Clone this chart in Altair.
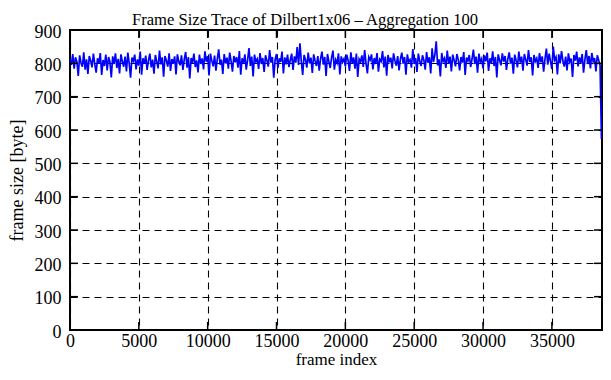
import altair as alt
import pandas as pd

# ---- data (frame size averaged over 100 frames) ----
frame_step = 100
frame_sizes = [
    812, 795, 828, 784, 818, 805, 762, 824, 801, 790, 833, 781, 812, 768, 822, 808, 788, 829, 797, 772,
    815, 800, 831, 765, 810, 792, 826, 779, 819, 804, 758, 821, 798, 830, 786, 813, 770, 827, 806, 790,
    820, 776, 832, 800, 757, 817, 807, 826, 782, 812, 793, 835, 766, 815, 799, 823, 780, 809, 829, 788,
    811, 769, 825, 805, 785, 838, 797, 818, 760, 822, 808, 790, 830, 777, 813, 799, 821, 767, 827, 806,
    794, 824, 780, 812, 834, 787, 819, 755, 816, 801, 829, 789, 809, 773, 826, 798, 815, 782, 836, 805,
    821, 764, 829, 808, 791, 823, 778, 813, 842, 796, 811, 768, 828, 800, 817, 784, 832, 807, 775, 822,
    803, 819, 787, 837, 766, 815, 799, 827, 781, 810, 846, 792, 820, 761, 826, 805, 813, 783, 831, 798,
    816, 774, 824, 809, 790, 840, 802, 819, 757, 812, 828, 786, 815, 804, 835, 770, 818, 797, 826, 789,
    810, 829, 780, 821, 802, 849, 795, 860, 806, 765, 825, 811, 787, 832, 800, 817, 771, 827, 808, 792,
    822, 778, 813, 835, 796, 819, 762, 828, 806, 786, 817, 838, 781, 811, 801, 830, 767, 821, 804, 814,
    791, 826, 809, 777, 833, 799, 818, 784, 829, 759, 813, 805, 824, 789, 840, 800, 770, 819, 810, 827,
    782, 816, 798, 831, 775, 812, 806, 837, 788, 820, 763, 825, 803, 817, 785, 830, 808, 793, 822, 779,
    813, 832, 799, 819, 766, 827, 805, 811, 787, 843, 798, 816, 774, 829, 807, 792, 824, 810, 781, 834,
    802, 818, 770, 845, 804, 825, 866, 794, 812, 761, 831, 806, 815, 786, 838, 799, 820, 776, 826, 809,
    791, 828, 811, 779, 819, 802, 834, 765, 817, 807, 825, 789, 813, 841, 798, 820, 772, 829, 804, 814,
    785, 824, 806, 832, 777, 815, 800, 836, 792, 819, 758, 827, 810, 794, 830, 805, 822, 780, 813, 833,
    799, 817, 769, 826, 809, 788, 835, 802, 820, 778, 828, 811, 793, 840, 804, 818, 764, 825, 806, 815,
    786, 831, 803, 821, 775, 813, 844, 796, 829, 805, 783, 850, 810, 819, 767, 827, 800, 837, 807, 790,
    820, 779, 830, 804, 814, 759, 825, 808, 835, 791, 818, 801, 828, 772, 812, 840, 798, 822, 785, 831,
    805, 816, 776, 824, 809, 794, 573,
]
x_domain = [0, 38640]
y_domain = [0, 900]
x_ticks = [0, 5000, 10000, 15000, 20000, 25000, 30000, 35000]
y_ticks = [0, 100, 200, 300, 400, 500, 600, 700, 800, 900]
title_text = "Frame Size Trace of Dilbert1x06 \u2013 Aggregation 100"
x_title = "frame index"
y_title = "frame size [byte]"

df = pd.DataFrame({
    "frame": [i * frame_step for i in range(len(frame_sizes))],
    "size": frame_sizes,
})
xt = pd.DataFrame({"frame": x_ticks})
yt = pd.DataFrame({"size": y_ticks})

W, H = 532, 300
TL = 8
FONT = "Liberation Serif"

xs = alt.Scale(domain=x_domain, nice=False, zero=False)
ys = alt.Scale(domain=y_domain, nice=False, zero=False)

grid_kw = dict(grid=True, gridDash=[7, 5], gridColor="black", gridWidth=1.1,
               gridOpacity=1, ticks=False, domain=False,
               labelFont=FONT, labelFontSize=18, labelColor="black",
               titleFont=FONT, titleFontWeight="normal",
               titleColor="black", labelFlush=False, format="d")

x_axis = alt.Axis(values=x_ticks, title=x_title, labelPadding=2, titleFontSize=17,
                  titleY=34, titleBaseline="alphabetic", **grid_kw)
y_axis = alt.Axis(values=y_ticks, title=y_title, labelPadding=9, titleFontSize=18,
                  labelOffset=2, titlePadding=8, **grid_kw)

X = alt.X("frame:Q", scale=xs, axis=x_axis)
Y = alt.Y("size:Q", scale=ys, axis=y_axis)

line = alt.Chart(df).mark_line(color="#0000ff", strokeWidth=1.7, clip=True).encode(
    x=X, y=Y)

tick_style = dict(color="black", strokeWidth=1.5)
bottom_ticks = alt.Chart(xt).mark_rule(**tick_style).encode(
    x=X, y=alt.value(H), y2=alt.value(H - TL))
top_ticks = alt.Chart(xt).mark_rule(**tick_style).encode(
    x=X, y=alt.value(0), y2=alt.value(TL))
left_ticks = alt.Chart(yt).mark_rule(**tick_style).encode(
    y=Y, x=alt.value(0), x2=alt.value(TL))
right_ticks = alt.Chart(yt).mark_rule(**tick_style).encode(
    y=Y, x=alt.value(W), x2=alt.value(W - TL))

chart = alt.layer(line, bottom_ticks, top_ticks, left_ticks, right_ticks).properties(
    width=W, height=H,
    title=alt.Title(title_text, font=FONT, fontSize=16.6, fontWeight="normal",
                    color="black", anchor="middle", offset=4, dx=-31, dy=10),
    autosize="none",
    padding={"left": 62, "top": 22, "right": 1, "bottom": 37},
).configure_view(stroke="black", strokeWidth=2)

chart.save("out.html", embed_options={"renderer": "svg", "actions": False})
